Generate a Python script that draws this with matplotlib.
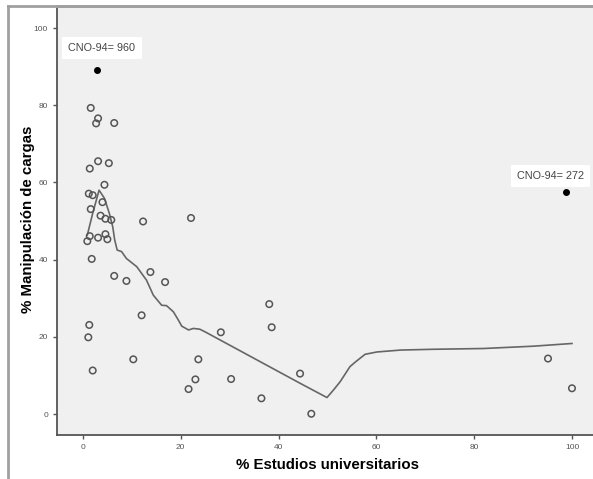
import matplotlib.pyplot as plt
from matplotlib.lines import Line2D

plt.rcParams['font.family'] = ['Liberation Sans', 'DejaVu Sans']

# puntos abiertos: % estudios universitarios vs % manipulación de cargas
x_pts = [1.6, 3.1, 2.7, 6.4, 1.4, 3.1, 5.3, 4.4, 1.2, 2.0, 4.0, 1.6,
         3.6, 4.6, 5.8, 12.3, 22.1, 1.4, 3.1, 0.9, 4.6, 5.0, 1.8, 6.4,
         8.9, 13.8, 16.8, 12.0, 1.3, 1.1, 10.3, 2.0, 28.2, 38.1, 38.6,
         23.6, 23.0, 21.6, 30.3, 36.5, 44.4, 46.7, 95.1, 100.0]
y_pts = [79.3, 76.6, 75.3, 75.4, 63.6, 65.5, 65.0, 59.4, 57.1, 56.7, 54.9, 53.1,
         51.4, 50.6, 50.3, 49.9, 50.8, 46.1, 45.7, 44.8, 46.6, 45.3, 40.2, 35.8,
         34.5, 36.8, 34.2, 25.6, 23.1, 19.9, 14.2, 11.3, 21.2, 28.5, 22.5,
         14.2, 9.0, 6.5, 9.1, 4.1, 10.5, 0.1, 14.4, 6.7]

# casos etiquetados
x_lab = [2.9, 98.8]
y_lab = [89.1, 57.5]
lab_text = ['CNO-94= 960', 'CNO-94= 272']

# curva de ajuste (loess)
x_fit = [0.9, 2.0, 3.3, 4.4, 5.4, 6.1, 6.5, 7.0, 7.9, 8.9, 11.0, 13.0, 14.4,
         16.1, 17.1, 18.5, 19.5, 20.2, 21.6, 22.6, 23.9, 25.0, 44.4, 49.9,
         51.2, 52.6, 54.6, 55.7, 57.7, 60.1, 65.0, 71.7, 81.9, 92.1, 100.0]
y_fit = [46.4, 52.0, 58.0, 55.9, 52.0, 48.5, 45.1, 42.5, 42.1, 40.3, 38.2, 34.7, 30.8,
         28.2, 28.1, 26.5, 24.4, 22.8, 21.8, 22.2, 22.0, 21.3, 8.0, 4.3,
         6.2, 8.4, 12.3, 13.5, 15.5, 16.1, 16.6, 16.8, 17.0, 17.6, 18.3]

ticks = [0, 20, 40, 60, 80, 100]

fig = plt.figure(figsize=(5.93, 4.79), dpi=100)
ax = fig.add_axes([57 / 593, 1 - 435 / 479, (593 - 57) / 593, (435 - 6) / 479])
ax.set_facecolor('#f0f0f0')

ax.plot(x_fit, y_fit, color='#666666', lw=1.2, zorder=2)
ax.scatter(x_pts, y_pts, s=22, facecolors='none', edgecolors='#555555',
           linewidths=1.1, zorder=3)
ax.scatter(x_lab, y_lab, s=16, color='black', zorder=3)

ax.text(3.9, 94.8, lab_text[0], fontsize=7.8, color='#444444', ha='center', va='center',
        bbox=dict(facecolor='white', edgecolor='none', pad=4.5))
ax.text(95.6, 61.7, lab_text[1], fontsize=7.8, color='#444444', ha='center', va='center',
        bbox=dict(facecolor='white', edgecolor='none', pad=4.5))

ax.set_xlim(-5.3, 104.3)
ax.set_ylim(-5.4, 105.7)
ax.set_xticks(ticks)
ax.set_yticks(ticks)
ax.tick_params(labelsize=6, colors='#555555', length=3, width=1)

ax.spines['right'].set_visible(False)
ax.spines['top'].set_color('#a0a0a0')
ax.spines['top'].set_linewidth(2)
ax.spines['left'].set_color('#555555')
ax.spines['bottom'].set_color('#555555')
ax.spines['left'].set_linewidth(1.3)
ax.spines['bottom'].set_linewidth(1.3)

ax.set_xlabel('% Estudios universitarios', fontsize=10.8, fontweight='bold', va='center')
ax.set_ylabel('% Manipulación de cargas', fontsize=10.8, fontweight='bold', va='center')
ax.xaxis.set_label_coords(0.504, -0.07)
ax.yaxis.set_label_coords(-0.054, 0.503)

# marco exterior
fig.add_artist(Line2D([8 / 593, 8 / 593], [0, 1 - 6 / 479], color='#a0a0a0', lw=2,
                      transform=fig.transFigure))
fig.add_artist(Line2D([8 / 593, 1], [1 - 6 / 479, 1 - 6 / 479], color='#a0a0a0', lw=2,
                      transform=fig.transFigure))

fig.savefig('out.png', dpi=100)
